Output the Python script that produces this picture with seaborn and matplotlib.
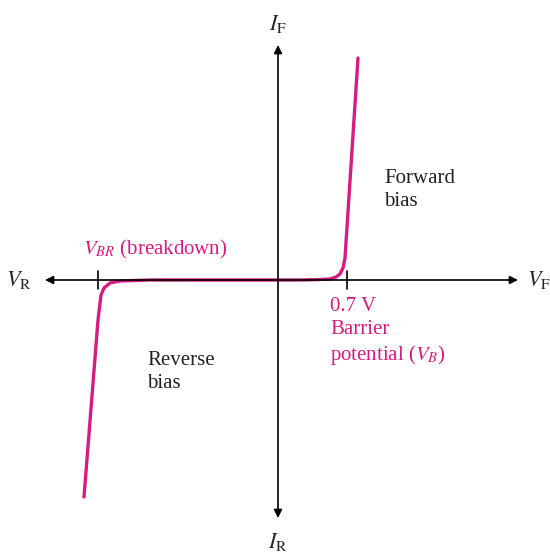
import numpy as np
import pandas as pd
import matplotlib
matplotlib.use("Agg")
import matplotlib.pyplot as plt
import seaborn as sns

# diode I-V curve (arbitrary units, origin at axis crossing)
fwd_v = [0, 22, 42, 52, 58, 62, 65, 67, 80]
fwd_i = [0, 0, 0.5, 1, 3, 6, 12, 22, 222]
rev_v = [0, -78, -128, -158, -168, -174, -177, -180, -194]
rev_i = [0, 0, 0, -1, -3, -8, -15, -40, -217]

v_br = -180      # breakdown tick
v_b = 69         # 0.7 V barrier tick

magenta = "#d41c82"

sns.set_theme(style="white")
plt.rcParams["font.family"] = ["Liberation Serif", "DejaVu Serif"]
plt.rcParams["mathtext.fontset"] = "stix"

fig = plt.figure(figsize=(5.5, 5.54), dpi=100)
ax = fig.add_axes([0, 0, 1, 1])
ax.set_xlim(-278, 272)
ax.set_ylim(-274, 280)
ax.axis("off")

# axes with arrows
arrow = dict(arrowstyle="<|-|>", color="black", lw=1.2, mutation_scale=12,
             shrinkA=0, shrinkB=0)
ax.annotate("", xy=(-233, 0), xytext=(240, 0), arrowprops=arrow)
ax.annotate("", xy=(0, 235), xytext=(0, -238), arrowprops=arrow)

# ticks
for tv in [v_br, v_b]:
    ax.plot([tv, tv], [-9, 9], color="black", lw=1.2)

curve = pd.concat([
    pd.DataFrame({"v": fwd_v, "i": fwd_i, "part": "forward"}),
    pd.DataFrame({"v": rev_v, "i": rev_i, "part": "reverse"}),
])
sns.lineplot(data=curve, x="v", y="i", units="part", estimator=None,
             sort=False, color=magenta, lw=2.4, ax=ax)
ax.plot([-123, -93], [0, 0], color="#6a3050", lw=1.0, ls=(0, (1, 1)))

# axis labels
ax.text(-246, 0, r"$V_\mathrm{R}$", fontsize=16, ha="right", va="center")
ax.text(249, 0, r"$V_\mathrm{F}$", fontsize=16, ha="left", va="center")
ax.text(0, 256, r"$I_\mathrm{F}$", fontsize=16, ha="center", va="center")
ax.text(0, -262, r"$I_\mathrm{R}$", fontsize=16, ha="center", va="center")

# annotations
ax.text(106, 90, "Forward\nbias", fontsize=15, ha="left", va="center",
        linespacing=1.25, color="#222222")
ax.text(-131, -92, "Reverse\nbias", fontsize=15, ha="left", va="center",
        linespacing=1.25, color="#222222")
ax.text(-195, 31, r"$V_{BR}$ (breakdown)", fontsize=15, ha="left",
        va="center", color=magenta)
ax.text(52, -52, "0.7 V\nBarrier\npotential ($V_B$)", fontsize=15,
        ha="left", va="center", linespacing=1.25, color=magenta)

fig.savefig("out.png", dpi=100)
